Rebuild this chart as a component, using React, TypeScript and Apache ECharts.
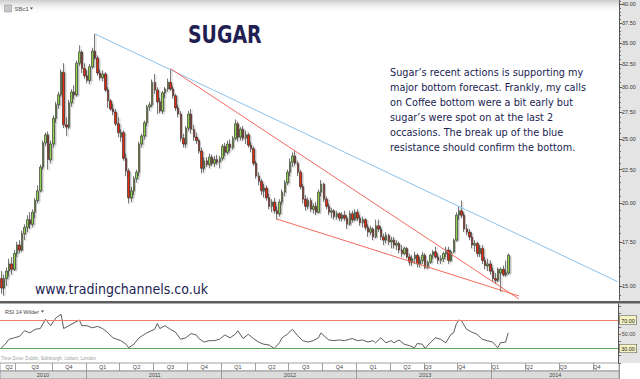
import React, { useEffect, useRef } from "react";
import * as echarts from "echarts";

// ---------- data ----------
const firstWeekMonday = "2010-05-17";
const weekCount = 238;

// weekly candles: [open, high, low, close]
const weeks2010: number[][] = [
  [15.4, 15.8, 14.6, 14.9], [14.9, 15.6, 14.5, 15.4], [15.4, 16.0, 15.0, 15.8], [15.8, 16.5, 15.5, 16.2],
  [16.2, 16.6, 15.6, 15.9], [15.9, 17.0, 15.8, 16.8], [16.8, 17.5, 16.6, 17.3], [17.3, 17.6, 16.8, 17.0],
  [17.0, 18.2, 16.9, 18.0], [18.0, 18.6, 17.6, 18.4], [18.4, 19.2, 18.1, 18.9], [18.9, 19.4, 18.3, 18.6],
  [18.6, 19.6, 18.4, 19.4], [19.4, 20.4, 19.0, 20.2], [20.2, 21.3, 20.0, 20.9], [20.9, 22.9, 20.8, 22.7],
  [22.7, 24.9, 22.5, 24.7], [24.7, 25.6, 24.4, 25.4], [25.4, 25.7, 22.5, 23.3], [23.3, 24.9, 23.0, 24.6],
  [24.6, 27.2, 24.3, 26.9], [26.9, 28.5, 26.5, 28.2], [28.2, 29.5, 27.8, 29.2], [29.2, 31.9, 29.0, 31.6],
  [31.6, 32.6, 26.0, 26.3], [26.3, 27.0, 25.3, 26.1], [26.1, 28.7, 25.9, 28.4], [28.4, 29.8, 28.0, 29.5],
  [29.5, 30.2, 28.8, 29.2], [29.2, 32.9, 29.0, 32.6], [32.6, 34.7, 32.3, 33.9], [33.9, 34.1, 31.5, 32.0],
  [32.0, 32.6, 30.9, 31.2],
];
const weeks2011: number[][] = [
  [31.2, 31.8, 30.4, 30.7], [30.7, 32.5, 30.3, 32.2], [32.2, 34.4, 32.0, 34.0], [34.0, 36.1, 33.0, 33.2],
  [33.2, 33.5, 31.2, 31.5], [31.5, 31.9, 30.7, 31.0], [31.0, 31.8, 30.6, 31.4], [31.4, 31.6, 29.5, 29.7],
  [29.7, 30.0, 27.9, 28.6], [28.6, 28.8, 27.6, 27.8], [27.8, 28.3, 27.2, 27.5], [27.5, 27.8, 26.2, 26.4],
  [26.4, 27.0, 25.2, 25.6], [25.2, 25.9, 24.8, 25.6], [25.6, 25.8, 23.2, 23.4], [23.4, 23.8, 22.0, 22.4],
  [22.4, 22.6, 20.0, 20.4], [20.4, 21.2, 20.1, 20.9], [20.9, 22.0, 20.6, 21.8], [21.8, 22.5, 21.5, 22.3],
  [22.3, 24.8, 22.0, 24.6], [24.6, 25.5, 24.3, 25.3], [25.3, 26.7, 25.0, 26.5], [26.5, 28.2, 26.2, 28.0],
  [28.0, 28.5, 27.6, 28.2], [28.2, 30.8, 28.0, 30.5], [30.5, 31.4, 29.3, 29.7], [29.7, 30.0, 27.3, 28.5],
  [28.5, 28.9, 27.4, 27.6], [27.6, 29.6, 27.3, 29.4], [29.4, 30.0, 28.9, 29.8], [29.8, 30.9, 29.5, 30.5],
  [30.5, 31.9, 29.6, 29.8], [29.8, 30.1, 28.8, 29.1], [29.1, 29.3, 27.6, 27.9], [27.9, 28.2, 27.0, 27.3],
  [27.3, 27.6, 24.8, 25.1], [25.1, 25.5, 24.3, 24.6], [24.6, 26.2, 24.3, 26.0], [26.0, 27.6, 25.7, 27.3],
  [27.3, 27.8, 25.5, 25.9], [25.9, 26.3, 24.9, 25.2], [25.2, 25.6, 24.6, 24.9], [24.9, 25.0, 23.8, 24.0],
  [24.0, 24.3, 22.2, 22.6], [22.6, 23.5, 22.3, 23.2], [23.2, 23.5, 22.7, 22.9], [22.9, 23.8, 22.6, 23.5],
  [23.5, 23.7, 22.8, 23.0], [23.0, 23.6, 22.7, 23.3], [23.3, 23.7, 22.9, 23.1], [23.1, 23.6, 22.6, 23.4],
];
const weeks2012: number[][] = [
  [23.4, 24.6, 23.2, 24.4], [24.4, 24.7, 23.6, 23.9], [23.9, 24.9, 23.7, 24.6], [24.6, 25.0, 24.0, 24.3],
  [24.3, 25.3, 24.1, 25.1], [25.1, 26.8, 24.9, 26.4], [26.4, 26.6, 24.8, 25.2], [25.2, 26.1, 24.9, 25.9],
  [25.9, 26.2, 24.9, 25.1], [25.1, 25.8, 24.6, 25.4], [25.4, 25.6, 24.3, 24.5], [24.5, 24.8, 23.9, 24.2],
  [24.2, 24.4, 22.8, 23.0], [23.0, 23.2, 21.8, 22.0], [22.0, 22.3, 21.3, 21.6], [21.6, 21.8, 20.6, 20.9],
  [20.9, 21.4, 20.4, 21.1], [21.1, 21.3, 20.2, 20.4], [20.4, 20.7, 19.6, 19.8], [19.8, 20.3, 19.4, 20.1],
  [20.1, 20.4, 19.3, 19.5], [19.5, 19.8, 18.9, 19.3], [19.3, 20.3, 19.1, 20.1], [20.1, 21.0, 19.9, 20.8],
  [20.8, 21.7, 20.5, 21.5], [21.5, 22.5, 21.3, 22.3], [22.3, 23.4, 22.0, 23.1], [23.1, 23.9, 22.7, 23.6],
  [23.6, 24.0, 22.8, 23.0], [23.0, 23.2, 22.0, 22.3], [22.3, 22.5, 21.0, 21.2], [21.2, 21.4, 20.0, 20.3],
  [20.3, 20.6, 19.5, 19.8], [19.8, 20.4, 19.6, 20.2], [20.2, 20.4, 19.4, 19.6], [19.6, 20.0, 19.3, 19.8],
  [19.8, 20.1, 19.2, 19.4], [19.4, 21.0, 19.3, 20.8], [20.8, 21.7, 20.5, 21.4], [21.4, 21.5, 20.1, 20.3],
  [20.3, 20.5, 19.6, 19.8], [19.8, 20.0, 19.2, 19.4], [19.4, 19.7, 19.0, 19.5], [19.5, 19.6, 18.9, 19.1],
  [19.1, 19.5, 18.9, 19.3], [19.3, 19.4, 18.8, 19.0], [19.0, 19.4, 18.8, 19.2], [19.2, 19.5, 18.8, 19.0],
  [19.0, 19.2, 18.3, 18.6], [18.6, 19.5, 18.5, 19.3], [19.3, 19.5, 18.7, 18.9], [18.9, 19.6, 18.8, 19.4],
];
const weeks2013: number[][] = [
  [19.4, 19.6, 18.8, 19.0], [19.0, 19.2, 18.5, 18.7], [18.7, 19.1, 18.4, 18.9], [18.9, 19.0, 18.2, 18.4],
  [18.4, 18.6, 17.8, 18.1], [18.1, 18.5, 17.9, 18.3], [18.3, 18.4, 17.6, 17.8], [17.8, 18.9, 17.7, 18.5],
  [18.5, 18.9, 18.1, 18.3], [18.3, 18.5, 17.6, 17.8], [17.8, 18.0, 17.3, 17.6], [17.6, 18.1, 17.4, 17.9],
  [17.9, 18.0, 17.3, 17.5], [17.5, 17.8, 17.1, 17.6], [17.6, 17.8, 17.1, 17.3], [17.3, 17.6, 17.0, 17.4],
  [17.4, 17.5, 16.8, 17.0], [17.0, 17.3, 16.6, 16.8], [16.8, 17.2, 16.7, 17.1], [17.1, 17.2, 16.5, 16.6],
  [16.6, 16.8, 16.1, 16.3], [16.3, 16.7, 16.1, 16.5], [16.5, 16.9, 16.2, 16.7], [16.7, 16.8, 16.0, 16.2],
  [16.2, 16.6, 16.0, 16.4], [16.4, 16.9, 16.2, 16.7], [16.7, 16.8, 15.9, 16.0], [16.0, 16.4, 15.9, 16.3],
  [16.3, 16.8, 16.2, 16.7], [16.7, 17.0, 16.5, 16.9], [16.9, 17.2, 16.5, 16.6], [16.6, 16.8, 16.2, 16.4],
  [16.4, 16.7, 16.2, 16.5], [16.5, 16.9, 16.3, 16.8], [16.8, 17.2, 16.6, 17.0], [17.0, 17.2, 16.2, 16.4],
  [16.4, 17.0, 16.3, 16.9], [16.9, 17.7, 16.8, 17.6], [17.6, 19.4, 17.5, 19.2], [19.2, 19.8, 18.9, 19.5],
  [19.5, 20.2, 19.0, 19.2], [19.2, 19.4, 18.1, 18.3], [18.3, 18.6, 17.9, 18.1], [18.1, 18.3, 17.6, 17.8],
  [17.8, 18.1, 17.1, 17.3], [17.3, 17.6, 16.9, 17.4], [17.4, 17.5, 16.6, 16.8], [16.8, 17.3, 16.6, 17.1],
  [17.1, 17.3, 16.2, 16.4], [16.4, 16.6, 15.9, 16.1], [16.1, 16.5, 15.8, 16.2], [16.2, 16.4, 15.6, 15.8],
];
const weeks2014: number[][] = [
  [15.8, 16.0, 15.2, 15.4], [15.4, 15.7, 15.1, 15.3], [15.3, 16.0, 15.2, 15.9], [15.7, 16.0, 14.7, 15.9],
  [15.9, 16.1, 15.5, 15.6], [15.6, 16.4, 15.5, 15.7], [15.7, 16.8, 15.6, 16.7],
];

const priceTickLabels = [15, 17.5, 20, 22.5, 25, 27.5, 30, 32.5, 35, 37.5, 40];
const priceMinorFrom = 14.5;
const priceMinorTo = 40.5;
const priceMinorStep = 0.5;
const priceAxisMin = 14.286;
const priceAxisMax = 40.63;

// [week index, price] anchors of the drawn trend lines
const resistanceLine = [[36, 36.1], [237, 15.23]];
const wedgeUpper = [[65, 32.0], [199, 14.34]];
const wedgeLower = [[106, 18.94], [199, 14.49]];

// RSI(14, Wilder): [week index, value]
const rsiReadings = [
  [0, 31], [1, 34], [3, 43], [5, 45], [7, 47], [9, 55], [11, 52], [13, 57], [15, 58], [17, 71], [19, 62],
  [21, 73], [23, 78], [24, 58], [26, 62], [28, 66], [30, 70], [31, 62], [33, 62], [35, 59], [37, 61],
  [39, 58], [41, 52], [43, 45], [46, 41], [48, 36], [49, 31], [51, 36], [53, 45], [56, 52], [59, 57],
  [60, 65], [61, 58], [63, 62], [65, 57], [67, 53], [69, 43], [71, 45], [73, 51], [75, 49], [76, 44],
  [78, 39], [80, 41], [82, 41], [84, 43], [86, 49], [88, 45], [90, 50], [91, 55], [93, 44], [95, 50],
  [97, 44], [99, 39], [101, 36], [103, 35], [105, 30], [107, 38], [108, 45], [110, 50], [112, 57],
  [114, 48], [116, 41], [118, 39], [120, 41], [122, 45], [123, 52], [125, 45], [126, 42], [128, 41],
  [130, 42], [132, 41], [134, 43], [135, 44], [137, 41], [139, 42], [141, 39], [143, 41], [144, 38],
  [146, 45], [148, 38], [150, 41], [151, 38], [153, 42], [155, 36], [157, 34], [159, 31], [160, 37],
  [162, 36], [163, 30], [165, 38], [167, 45], [169, 43], [171, 38], [173, 50], [174, 52], [175, 64],
  [176, 70], [177, 69], [179, 57], [181, 53], [183, 50], [185, 43], [187, 41], [189, 39], [191, 31],
  [192, 38], [194, 39], [195, 52],
];
const rsiTickLabels = [30, 50, 70];
const rsiTickMarks = [10, 20, 30, 40, 50, 60, 70, 80, 90];
const rsiOverbought = 70;
const rsiOversold = 30;
const rsiAxisMin = 9.65;
const rsiAxisMax = 92.46;

const titleText = "SUGAR";
const siteText = "www.tradingchannels.co.uk";
const noteLines = [
  "Sugar\u2019s recent actions is supporting my",
  "major bottom forecast. Frankly, my calls",
  "on Coffee bottom were a bit early but",
  "sugar\u2019s were spot on at the last 2",
  "occasions. The break up of the blue",
  "resistance should confirm the bottom.",
];
const symbolText = "SBc1";
const rsiTitle = "RSI 14 Wilder";
const timeZoneText = "Time Zone: Dublin, Edinburgh, Lisbon, London";
const leftAlignedQuarterFrom = "2013-07-01";

// ---------- derived ----------
const DAY = 86400000;
const startMs = Date.parse(firstWeekMonday + "T00:00:00Z");
const weekDates: Date[] = [];
for (let i = 0; i < weekCount; i++) weekDates.push(new Date(startMs + i * 7 * DAY));
const categories = weekDates.map((d) => d.toISOString().slice(0, 10));
const thursdays = weekDates.map((d) => new Date(d.getTime() + 3 * DAY));
const quarterKeys = thursdays.map((t) => t.getUTCFullYear() * 4 + Math.floor(t.getUTCMonth() / 3));
const yearKeys = thursdays.map((t) => t.getUTCFullYear());

function segments(keys: number[]) {
  const segs: { start: number; end: number; key: number }[] = [];
  let s = 0;
  for (let i = 1; i <= keys.length; i++) {
    if (i === keys.length || keys[i] !== keys[s]) {
      segs.push({ start: s, end: i, key: keys[s] });
      s = i;
    }
  }
  return segs;
}
const quarterSegs = segments(quarterKeys);
const yearSegs = segments(yearKeys);
const cutoffMs = Date.parse(leftAlignedQuarterFrom + "T00:00:00Z");
const quarterLabelAt: Record<number, string> = {};
quarterSegs.forEach((sg) => {
  const q = sg.key % 4;
  const y = Math.floor(sg.key / 4);
  const qStart = Date.UTC(y, q * 3, 1);
  const idx = qStart >= cutoffMs ? sg.start + 1 : Math.round((sg.start + sg.end) / 2 - 0.5);
  quarterLabelAt[idx] = "Q" + (q + 1);
});
const yearLabelAt: Record<number, string> = {};
yearSegs.forEach((sg) => {
  yearLabelAt[Math.round((sg.start + sg.end) / 2 - 0.5)] = String(sg.key);
});
const quarterStarts = new Set(quarterSegs.map((s) => s.start).filter((s) => s > 0));
const yearStarts = new Set(yearSegs.map((s) => s.start).filter((s) => s > 0));

const allWeeks = [...weeks2010, ...weeks2011, ...weeks2012, ...weeks2013, ...weeks2014];
const ln = Math.log;
const candleData = allWeeks.map(([o, h, l, c]) => [ln(o), ln(c), ln(l), ln(h)]);
const logLine = (pts: number[][]) => pts.map(([w, p]) => [w, ln(p)]);
const minorTicks: number[] = [];
for (let p = priceMinorFrom; p <= priceMinorTo + 1e-9; p += priceMinorStep) minorTicks.push(ln(p));

const SANS = "'Liberation Sans', Arial, sans-serif";
const TEXTFONT = "'DejaVu Sans Condensed', 'DejaVu Sans', sans-serif";
const NAVY = "#211e52";

function buildOption(): any {
  const rowAxis = (gridIndex: number, starts: Set<number>, labels: Record<number, string>) => ({
    type: "category",
    gridIndex,
    data: categories,
    boundaryGap: true,
    position: "bottom",
    axisLine: { show: false },
    axisTick: { show: false },
    splitLine: {
      show: true,
      interval: (i: number) => starts.has(i),
      lineStyle: { color: "#8c8c8c", width: 0.8 },
    },
    axisLabel: {
      inside: true,
      margin: 1.2,
      interval: (i: number) => labels[i] !== undefined,
      formatter: (_v: string, i: number) => labels[i] || "",
      fontSize: 5.5,
      color: "#444",
      fontFamily: SANS,
    },
  });

  return {
    animation: false,
    textStyle: { fontFamily: SANS },
    grid: [
      { left: 0, right: 21, top: 0, height: 300 },
      { left: 0, right: 21, top: 304, height: 59 },
      { left: 0, right: 21, top: 363, height: 8, show: true, backgroundColor: "#ffffff", borderColor: "#8c8c8c", borderWidth: 0.8 },
      { left: 0, right: 21, top: 371, height: 8, show: true, backgroundColor: "#dcdcdc", borderColor: "#8c8c8c", borderWidth: 0.8 },
    ],
    xAxis: [
      { type: "category", gridIndex: 0, data: categories, boundaryGap: true, show: false },
      { type: "category", gridIndex: 1, data: categories, boundaryGap: true, show: false },
      rowAxis(2, quarterStarts, quarterLabelAt),
      rowAxis(3, yearStarts, yearLabelAt),
    ],
    yAxis: [
      {
        type: "value", gridIndex: 0, position: "right", z: 5,
        min: ln(priceAxisMin), max: ln(priceAxisMax),
        axisLine: { show: true, lineStyle: { color: "#555", width: 1 } },
        axisTick: { show: true, customValues: minorTicks, length: 2, lineStyle: { color: "#555", width: 0.8 } },
        axisLabel: { show: false },
        splitLine: { show: false },
      },
      {
        type: "value", gridIndex: 0, position: "right", z: 5,
        min: ln(priceAxisMin), max: ln(priceAxisMax),
        axisLine: { show: false },
        axisTick: { show: true, customValues: priceTickLabels.map(ln), length: 3.5, lineStyle: { color: "#444", width: 0.8 } },
        axisLabel: {
          show: true, customValues: priceTickLabels.map(ln), margin: 3,
          formatter: (v: number) => Math.exp(v).toFixed(2),
          fontSize: 5.5, color: "#333", fontFamily: SANS,
        },
        splitLine: { show: false },
      },
      {
        type: "value", gridIndex: 1, position: "right", z: 5,
        min: rsiAxisMin, max: rsiAxisMax,
        axisLine: { show: true, lineStyle: { color: "#555", width: 1 } },
        axisTick: { show: true, customValues: rsiTickMarks, length: 2.5, lineStyle: { color: "#555", width: 0.8 } },
        axisLabel: {
          show: true, customValues: rsiTickLabels, margin: 1,
          formatter: (v: number) =>
            v === rsiOverbought || v === rsiOversold ? `{tag|${v.toFixed(2)}}` : `{plain|${v.toFixed(2)}}`,
          rich: {
            tag: { backgroundColor: "#f6f3c2", borderColor: "#555", borderWidth: 0.6, padding: [1.5, 1.5, 0.5, 1.5], fontSize: 5.5, color: "#222", fontFamily: SANS },
            plain: { fontSize: 5.5, color: "#444", padding: [0, 0, 0, 2], fontFamily: SANS },
          },
        },
        splitLine: { show: false },
      },
      { type: "value", gridIndex: 2, show: false },
      { type: "value", gridIndex: 3, show: false },
    ],
    series: [
      {
        type: "candlestick",
        xAxisIndex: 0,
        yAxisIndex: 1,
        data: candleData,
        barWidth: 2,
        silent: true,
        itemStyle: {
          color: "#8fd24f",
          color0: "#e8290f",
          borderColor: "#222",
          borderColor0: "#222",
          borderWidth: 0.6,
          shadowColor: "rgba(0,0,0,0.28)",
          shadowOffsetX: 1.5,
          shadowOffsetY: 1,
          shadowBlur: 0.5,
        },
      },
      {
        type: "line", xAxisIndex: 0, yAxisIndex: 1, data: logLine(resistanceLine),
        showSymbol: false, silent: true, z: 4, lineStyle: { color: "#8cc2ec", width: 1 },
      },
      {
        type: "line", xAxisIndex: 0, yAxisIndex: 1, data: logLine(wedgeUpper),
        showSymbol: false, silent: true, z: 4, lineStyle: { color: "#f26a5c", width: 1 },
      },
      {
        type: "line", xAxisIndex: 0, yAxisIndex: 1, data: logLine(wedgeLower),
        showSymbol: false, silent: true, z: 4, lineStyle: { color: "#f26a5c", width: 1 },
      },
      {
        type: "line", xAxisIndex: 1, yAxisIndex: 2, data: rsiReadings,
        showSymbol: false, silent: true, z: 4, lineStyle: { color: "#4a4a4a", width: 0.9 },
        markLine: {
          silent: true,
          symbol: ["none", "none"],
          label: { show: false },
          lineStyle: { type: "solid", width: 1 },
          data: [
            { yAxis: rsiOverbought, lineStyle: { color: "#f47a6c", type: "solid", width: 1 } },
            { yAxis: rsiOversold, lineStyle: { color: "#5ea85e", type: "solid", width: 1 } },
          ],
        },
      },
    ],
    graphic: [
      { type: "rect", z: -10, silent: true, shape: { x: 619, y: 0, width: 21, height: 363 }, style: { fill: "#e4e4e4" } },
      {
        type: "rect", z: 50, silent: true, shape: { x: 0, y: 0, width: 619, height: 14 },
        style: {
          fill: new echarts.graphic.LinearGradient(0, 0, 0, 1, [
            { offset: 0, color: "#cccccc" },
            { offset: 1, color: "rgba(255,255,255,0)" },
          ]),
        },
      },
      { type: "rect", z: 51, silent: true, shape: { x: 4.5, y: 5, width: 7, height: 7 }, style: { fill: "#c6c6c6", stroke: "#999", lineWidth: 0.6 } },
      { type: "text", z: 51, silent: true, x: 14.5, y: 8.7, style: { text: symbolText, fontSize: 6, fill: "#555", verticalAlign: "middle", fontFamily: SANS } },
      { type: "polygon", z: 51, silent: true, shape: { points: [[30, 7.6], [33, 7.6], [31.5, 9.6]] }, style: { fill: "#444" } },
      {
        type: "text", z: 40, silent: true, x: 188, y: 34.7, scaleX: 0.84,
        style: { text: titleText, fontSize: 25, fontWeight: "bold", fontFamily: TEXTFONT, fill: NAVY, verticalAlign: "middle" },
      },
      ...noteLines.map((t, i) => ({
        type: "text", z: 40, silent: true, x: 390, y: 72 + i * 15,
        style: { text: t, fontSize: 10.8, fontFamily: TEXTFONT, fill: NAVY, verticalAlign: "middle" },
      })),
      {
        type: "text", z: 40, silent: true, x: 35, y: 288.5,
        style: { text: siteText, fontSize: 14, fontFamily: TEXTFONT, fill: NAVY, verticalAlign: "middle" },
      },
      { type: "rect", z: 40, silent: true, shape: { x: 0, y: 301, width: 640, height: 2.6 }, style: { fill: "#5e5e5e" } },
      { type: "text", z: 40, silent: true, x: 5, y: 311.5, style: { text: rsiTitle, fontSize: 5.5, fill: "#444", verticalAlign: "middle", fontFamily: SANS } },
      { type: "polygon", z: 40, silent: true, shape: { points: [[41, 310.6], [44, 310.6], [42.5, 312.6]] }, style: { fill: "#444" } },
      { type: "text", z: 40, silent: true, x: 1, y: 358.5, style: { text: timeZoneText, fontSize: 4.6, fill: "#a0a0a0", verticalAlign: "middle", fontFamily: SANS } },
    ],
  };
}

export default function App() {
  const ref = useRef<HTMLDivElement>(null);
  useEffect(() => {
    if (!ref.current) return;
    const chart = echarts.init(ref.current, undefined, { renderer: "svg" });
    chart.setOption(buildOption());
    return () => chart.dispose();
  }, []);
  return (
    <div
      ref={ref}
      style={{ position: "fixed", left: 0, top: 0, width: 640, height: 379, background: "#ffffff" }}
    />
  );
}
